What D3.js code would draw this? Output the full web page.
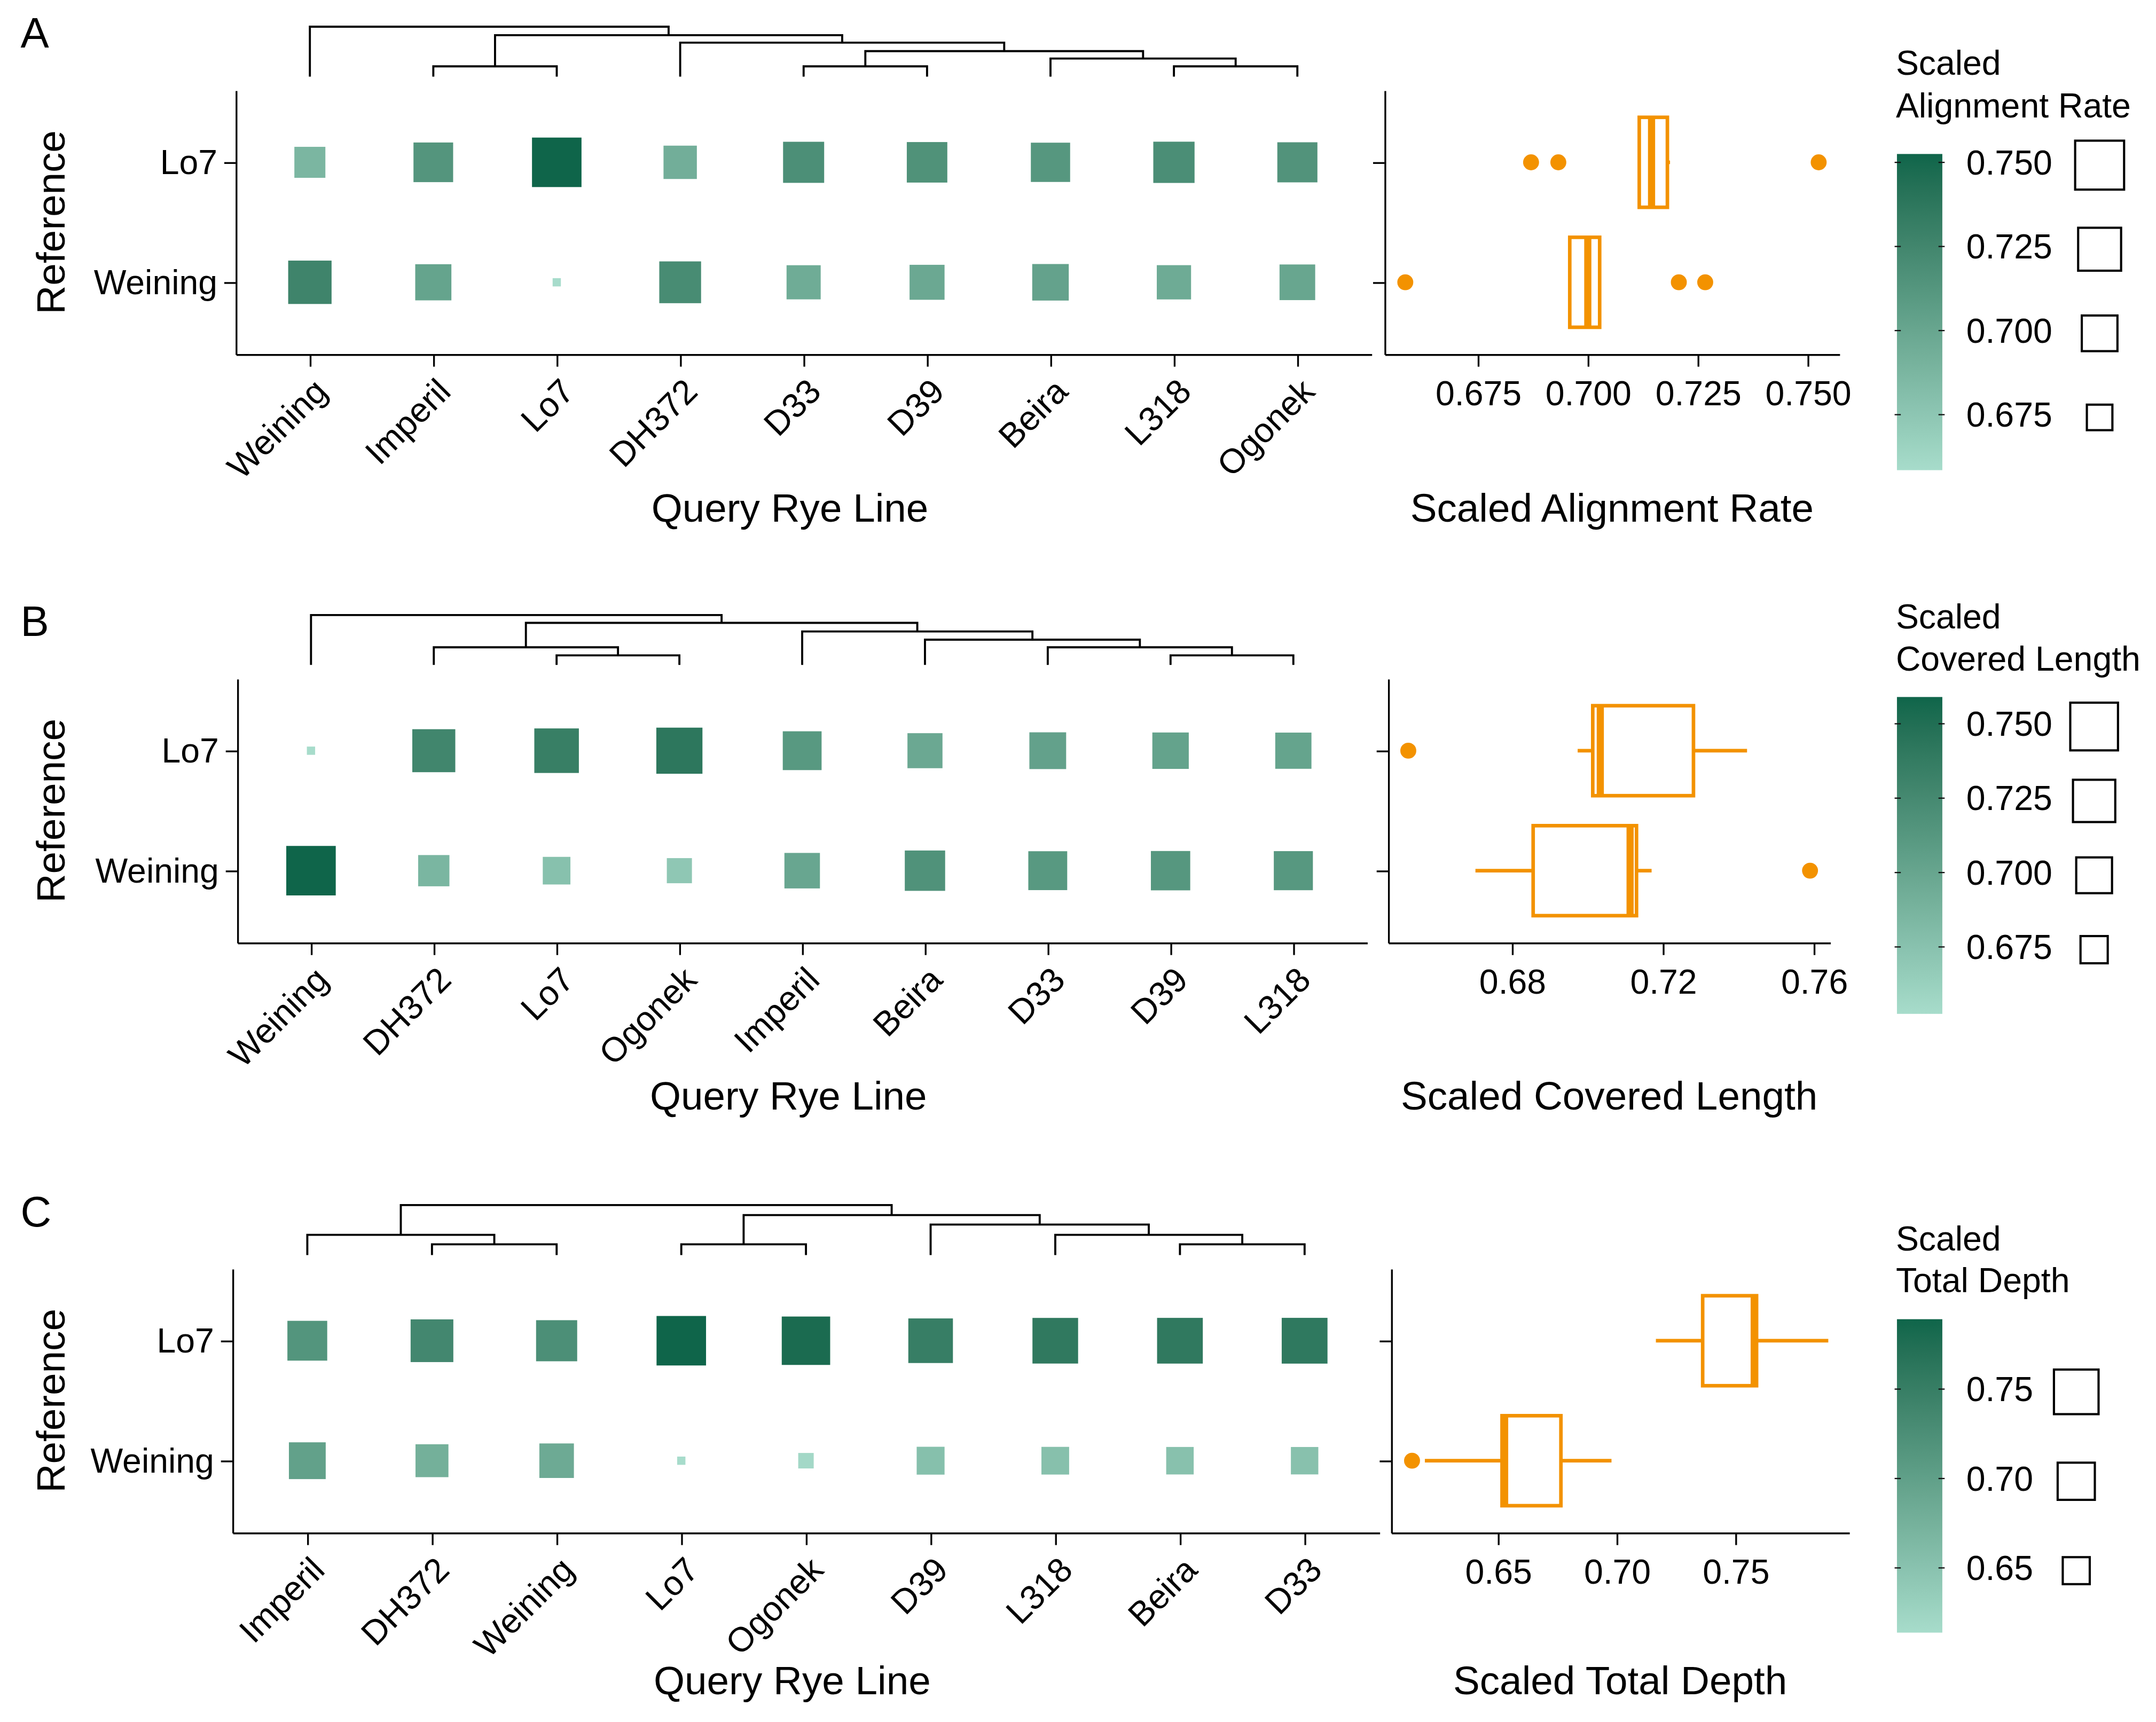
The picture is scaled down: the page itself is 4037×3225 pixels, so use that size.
<!DOCTYPE html>
<html>
<head>
<meta charset="utf-8">
<script src="https://cdn.jsdelivr.net/npm/d3@7"></script>
<style>
  html, body { margin: 0; padding: 0; background: #fff; }
</style>
</head>
<body>
<svg id="chart"></svg>
<script>
// ---------- data ----------
const refs = ["Lo7", "Weining"];

// panel A : scaled alignment rate
const linesA = ["Weining", "Imperil", "Lo7", "DH372", "D33", "D39", "Beira", "L318", "Ogonek"];
const alignLo7     = [0.6871, 0.7130, 0.7525, 0.6933, 0.7181, 0.7160, 0.7117, 0.7187, 0.7145];
const alignWeining = [0.7267, 0.7015, 0.6585, 0.7207, 0.6955, 0.6980, 0.7027, 0.6959, 0.7000];
// dendrogram as nested [height, left, right]
const treeA = [1.0, "Weining",
  [0.83, [0.205, "Imperil", "Lo7"],
    [0.68, "DH372",
      [0.51, [0.205, "D33", "D39"],
        [0.362, "Beira", [0.205, "L318", "Ogonek"]]]]]];
const boxTicksA = [0.675, 0.700, 0.725, 0.750];
const legendTicksA = [0.675, 0.700, 0.725, 0.750];

// panel B : scaled covered length
const linesB = ["Weining", "DH372", "Lo7", "Ogonek", "Imperil", "Beira", "D33", "D39", "L318"];
const coverLo7     = [0.6525, 0.7281, 0.7350, 0.7423, 0.7110, 0.6974, 0.7034, 0.7022, 0.7014];
const coverWeining = [0.7590, 0.6856, 0.6760, 0.6703, 0.6990, 0.7170, 0.7113, 0.7130, 0.7120];
const treeB = [1.0, "Weining",
  [0.844,
    [0.354, "DH372", [0.192, "Lo7", "Ogonek"]],
    [0.671, "Imperil",
      [0.507, "Beira",
        [0.354, "D33", [0.192, "D39", "L318"]]]]]];
const boxTicksB = [0.68, 0.72, 0.76];
const legendTicksB = [0.675, 0.700, 0.725, 0.750];

// panel C : scaled total depth
const linesC = ["Imperil", "DH372", "Weining", "Lo7", "Ogonek", "D39", "L318", "Beira", "D33"];
const depthLo7     = [0.7165, 0.7362, 0.7250, 0.7891, 0.7800, 0.7500, 0.7579, 0.7585, 0.7589];
const depthWeining = [0.6978, 0.6765, 0.6850, 0.6138, 0.6192, 0.6535, 0.6528, 0.6520, 0.6517];
const treeC = [1.0,
  [0.404, "Imperil", [0.214, "DH372", "Weining"]],
  [0.80, [0.214, "Lo7", "Ogonek"],
    [0.61, "D39",
      [0.404, "L318", [0.214, "Beira", "D33"]]]]];
const boxTicksC = [0.65, 0.70, 0.75];
const legendTicksC = [0.65, 0.70, 0.75];

// ---------- setup ----------
const W = 1568, H = 1252.6;
const font = "'Liberation Sans', Arial, Helvetica, sans-serif";
const orange = "#F39200";
const lowCol = "#a7dccb", highCol = "#0f654a";

const svg = d3.select("#chart")
  .attr("width", 4037).attr("height", 3225)
  .attr("viewBox", `0 0 ${W} ${H}`)
  .style("font-family", font);
const defs = svg.append("defs");

const panels = [
  { tag: "A", cols: linesA, values: [alignLo7, alignWeining], tree: treeA,
    boxTicks: boxTicksA, boxFmt: ".3f", legendTicks: legendTicksA, legendFmt: ".3f",
    legendTitle: ["Scaled", "Alignment Rate"], boxTitle: "Scaled Alignment Rate",
    top: 65.7, hx: [171.5, 997.4], bx: [1007, 1337.7], titleY: 379.5, tagY: 34.7,
    leg: { t1: 54.5, t2: 85.5, barTop: 112, barBot: 342, keyX: 1527 } },
  { tag: "B", cols: linesB, values: [coverLo7, coverWeining], tree: treeB,
    boxTicks: boxTicksB, boxFmt: ".2f", legendTicks: legendTicksB, legendFmt: ".3f",
    legendTitle: ["Scaled", "Covered Length"], boxTitle: "Scaled Covered Length",
    top: 493.7, hx: [172.6, 994.2], bx: [1009.6, 1331], titleY: 807, tagY: 462.5,
    leg: { t1: 457, t2: 487.9, barTop: 507, barBot: 737.5, keyX: 1523 } },
  { tag: "C", cols: linesC, values: [depthLo7, depthWeining], tree: treeC,
    boxTicks: boxTicksC, boxFmt: ".2f", legendTicks: legendTicksC, legendFmt: ".2f",
    legendTitle: ["Scaled", "Total Depth"], boxTitle: "Scaled Total Depth",
    top: 922.9, hx: [169.1, 1003.2], bx: [1011.8, 1344.8], titleY: 1232.5, tagY: 892.2,
    leg: { t1: 909.5, t2: 939.8, barTop: 959.6, barBot: 1187.6, keyX: 1510 } }
];

const panelH = 192;

function parseTree(n) {
  return typeof n === "string" ? { name: n, h: 0 } : { h: n[0], children: n.slice(1).map(parseTree) };
}

function styleAxis(g) {
  g.attr("font-size", 25).attr("font-family", font);
  g.selectAll("path, line").attr("stroke", "#000").attr("stroke-width", 1.3);
  g.selectAll("text").attr("fill", "#000");
}

function boxStats(vals) {
  const s = vals.slice().sort(d3.ascending);
  const q1 = d3.quantileSorted(s, 0.25), med = d3.quantileSorted(s, 0.5), q3 = d3.quantileSorted(s, 0.75);
  const iqr = q3 - q1, lo = q1 - 1.5 * iqr, hi = q3 + 1.5 * iqr;
  const inside = s.filter(v => v >= lo && v <= hi);
  return { q1, med, q3, wlo: d3.min(inside), whi: d3.max(inside), out: s.filter(v => v < lo || v > hi) };
}

panels.forEach((p, pi) => {
  const g = svg.append("g");
  const yTop = p.top, yBot = p.top + panelH;
  const all = p.values.flat();
  const [vmin, vmax] = d3.extent(all);

  const x = d3.scalePoint().domain(p.cols).range(p.hx).padding(0.6);
  const y = d3.scalePoint().domain(refs).range([yTop, yBot]).padding(0.6);
  const color = d3.scaleLinear().domain([vmin, vmax]).range([lowCol, highCol]).interpolate(d3.interpolateLab);
  const side = d3.scaleLinear().domain([0, 1]).range([6, 36]);
  const size = v => side(Math.sqrt((v - vmin) / (vmax - vmin)));

  // panel tag
  g.append("text").attr("x", 15).attr("y", p.tagY).attr("font-size", 31).text(p.tag);

  // dendrogram
  const root = d3.hierarchy(parseTree(p.tree));
  const yd = d3.scaleLinear().domain([0, 1]).range([yTop - 10, yTop - 10 - 36.3]);
  root.eachAfter(n => { n.px = n.children ? d3.mean(n.children, c => c.px) : x(n.data.name); });
  g.append("g").selectAll("path")
    .data(root.descendants().filter(n => n.children))
    .join("path")
    .attr("fill", "none").attr("stroke", "#000").attr("stroke-width", 1.5)
    .attr("d", n => {
      const [a, b] = n.children;
      return `M${a.px},${yd(a.data.h)}V${yd(n.data.h)}H${b.px}V${yd(b.data.h)}`;
    });

  // heatmap squares
  const cells = [];
  refs.forEach((r, ri) => p.cols.forEach((c, ci) => cells.push({ r, c, v: p.values[ri][ci] })));
  g.append("g").selectAll("rect")
    .data(cells)
    .join("rect")
    .attr("x", d => x(d.c) - size(d.v) / 2)
    .attr("y", d => y(d.r) - size(d.v) / 2)
    .attr("width", d => size(d.v))
    .attr("height", d => size(d.v))
    .attr("fill", d => color(d.v));

  // heatmap axes
  const xa = g.append("g").attr("transform", `translate(0,${yBot})`)
    .call(d3.axisBottom(x).tickSize(9).tickSizeOuter(0));
  styleAxis(xa);
  xa.selectAll(".tick text")
    .attr("y", null).attr("dy", null)
    .attr("text-anchor", "end")
    .attr("transform", "translate(13.5,28.5) rotate(-45)");
  const ya = g.append("g").attr("transform", `translate(${p.hx[0]},0)`)
    .call(d3.axisLeft(y).tickSize(8.4).tickPadding(5).tickSizeOuter(0));
  styleAxis(ya);

  g.append("text")
    .attr("x", (p.hx[0] + p.hx[1]) / 2 - 10).attr("y", p.titleY)
    .attr("text-anchor", "middle").attr("font-size", 29)
    .text("Query Rye Line");
  g.append("text")
    .attr("transform", `translate(46.9,${(yTop + yBot) / 2}) rotate(-90)`)
    .attr("text-anchor", "middle").attr("font-size", 29)
    .text("Reference");

  // boxplot panel
  const pad = (vmax - vmin) * 0.05;
  const xb = d3.scaleLinear().domain([vmin - pad, vmax + pad]).range(p.bx);
  const bh = y.step() * 0.75;
  refs.forEach((r, ri) => {
    const st = boxStats(p.values[ri]);
    const cy = y(r);
    const bg = g.append("g");
    bg.selectAll("circle").data(st.out).join("circle")
      .attr("cx", v => xb(v)).attr("cy", cy).attr("r", 5.8).attr("fill", orange);
    bg.append("line").attr("x1", xb(st.wlo)).attr("x2", xb(st.q1)).attr("y1", cy).attr("y2", cy)
      .attr("stroke", orange).attr("stroke-width", 2.6);
    bg.append("line").attr("x1", xb(st.q3)).attr("x2", xb(st.whi)).attr("y1", cy).attr("y2", cy)
      .attr("stroke", orange).attr("stroke-width", 2.6);
    bg.append("rect")
      .attr("x", xb(st.q1)).attr("y", cy - bh / 2)
      .attr("width", xb(st.q3) - xb(st.q1)).attr("height", bh)
      .attr("fill", "#fff").attr("stroke", orange).attr("stroke-width", 2.6);
    bg.append("line").attr("x1", xb(st.med)).attr("x2", xb(st.med))
      .attr("y1", cy - bh / 2).attr("y2", cy + bh / 2)
      .attr("stroke", orange).attr("stroke-width", 5.2);
  });

  const xba = g.append("g").attr("transform", `translate(0,${yBot})`)
    .call(d3.axisBottom(xb).tickValues(p.boxTicks).tickFormat(d3.format(p.boxFmt))
      .tickSize(9).tickPadding(10.2).tickSizeOuter(0));
  styleAxis(xba);
  const yba = g.append("g").attr("transform", `translate(${p.bx[0]},0)`)
    .call(d3.axisLeft(y).tickSize(8.4).tickFormat("").tickSizeOuter(0));
  styleAxis(yba);

  g.append("text")
    .attr("x", (p.bx[0] + p.bx[1]) / 2).attr("y", p.titleY)
    .attr("text-anchor", "middle").attr("font-size", 29)
    .text(p.boxTitle);

  // legend
  const L = p.leg, barX = 1379.6, barW = 33;
  g.append("text").attr("x", 1378.8).attr("y", L.t1).attr("font-size", 25).text(p.legendTitle[0]);
  g.append("text").attr("x", 1378.8).attr("y", L.t2).attr("font-size", 25).text(p.legendTitle[1]);

  const gid = "grad" + pi;
  const grad = defs.append("linearGradient").attr("id", gid)
    .attr("x1", 0).attr("y1", 1).attr("x2", 0).attr("y2", 0);
  d3.range(0, 1.0001, 0.05).forEach(t => {
    grad.append("stop").attr("offset", t).attr("stop-color", color(vmin + t * (vmax - vmin)));
  });
  g.append("rect").attr("x", barX).attr("y", L.barTop)
    .attr("width", barW).attr("height", L.barBot - L.barTop)
    .attr("fill", `url(#${gid})`);

  const ly = d3.scaleLinear().domain([vmin, vmax]).range([L.barBot, L.barTop]);
  const lg = g.append("g");
  p.legendTicks.forEach(t => {
    const ty = ly(t);
    lg.append("line").attr("x1", barX - 1.7).attr("x2", barX + 2.8).attr("y1", ty).attr("y2", ty)
      .attr("stroke", "#111").attr("stroke-width", 0.9);
    lg.append("line").attr("x1", barX + barW - 2.8).attr("x2", barX + barW + 1.7).attr("y1", ty).attr("y2", ty)
      .attr("stroke", "#111").attr("stroke-width", 0.9);
    lg.append("text").attr("x", 1430).attr("y", ty).attr("dy", "0.35em")
      .attr("font-size", 25).text(d3.format(p.legendFmt)(t));
    const s = size(t);
    lg.append("rect").attr("x", L.keyX - s / 2).attr("y", ty + 2 - s / 2)
      .attr("width", s).attr("height", s)
      .attr("fill", "none").attr("stroke", "#000").attr("stroke-width", 1.6);
  });
});
</script>
</body>
</html>
